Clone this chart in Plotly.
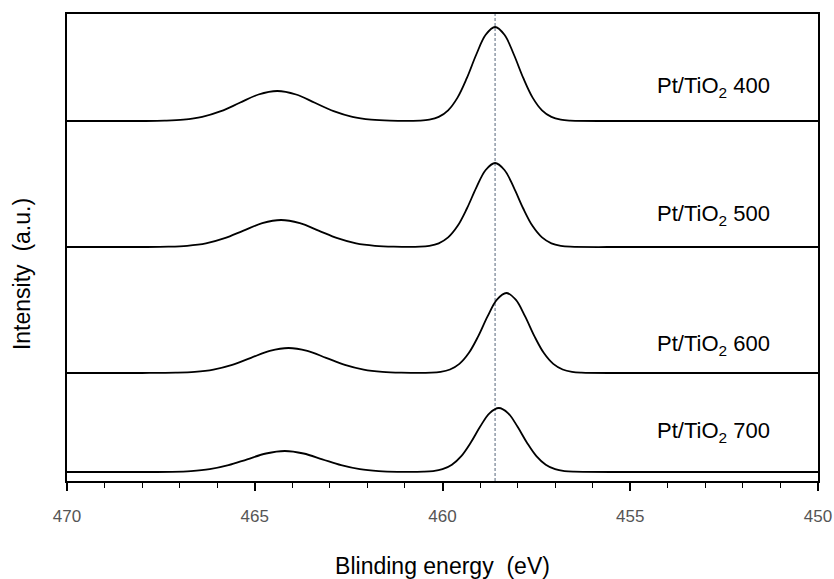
import plotly.graph_objects as go

# Binding energy (eV) sample points and intensities (a.u.)
samples = ["Pt/TiO<sub>2</sub> 400", "Pt/TiO<sub>2</sub> 500", "Pt/TiO<sub>2</sub> 600", "Pt/TiO<sub>2</sub> 700"]

x_400 = [470, 468, 467.4, 466.9, 466.4, 465.9, 465.4, 464.9, 464.4, 463.9, 463.4, 462.9, 462.4, 461.9, 461.4,
         460.6, 460.35, 460.1, 459.85, 459.6, 459.35, 459.1, 458.85, 458.6, 458.35, 458.1, 457.85, 457.6,
         457.35, 457.1, 456.85, 456.6, 455, 450]
y_400 = [0, 0, 0.003, 0.013, 0.041, 0.098, 0.182, 0.265, 0.30, 0.265, 0.182, 0.098, 0.041, 0.013, 0.003,
         0.004, 0.013, 0.041, 0.107, 0.234, 0.431, 0.665, 0.862, 0.94, 0.862, 0.665, 0.431, 0.234,
         0.107, 0.041, 0.013, 0.004, 0, 0]

x_500 = [470, 468, 467.3, 466.8, 466.3, 465.8, 465.3, 464.8, 464.3, 463.8, 463.3, 462.8, 462.3, 461.8, 461.3,
         460.6, 460.35, 460.1, 459.85, 459.6, 459.35, 459.1, 458.85, 458.6, 458.35, 458.1, 457.85, 457.6,
         457.35, 457.1, 456.85, 456.6, 455, 450]
y_500 = [0, 0, 0.003, 0.012, 0.036, 0.088, 0.164, 0.238, 0.27, 0.238, 0.164, 0.088, 0.036, 0.012, 0.003,
         0.003, 0.012, 0.037, 0.096, 0.209, 0.385, 0.594, 0.770, 0.84, 0.770, 0.594, 0.385, 0.209,
         0.096, 0.037, 0.012, 0.003, 0, 0]

x_600 = [470, 468, 467.1, 466.6, 466.1, 465.6, 465.1, 464.6, 464.1, 463.6, 463.1, 462.6, 462.1, 461.6, 461.1,
         460.3, 460.05, 459.8, 459.55, 459.3, 459.05, 458.8, 458.55, 458.3, 458.05, 457.8, 457.55, 457.3,
         457.05, 456.8, 456.55, 456.3, 455, 450]
y_600 = [0, 0, 0.003, 0.011, 0.034, 0.081, 0.152, 0.221, 0.25, 0.221, 0.152, 0.081, 0.034, 0.011, 0.003,
         0.003, 0.011, 0.035, 0.091, 0.199, 0.366, 0.566, 0.734, 0.80, 0.734, 0.566, 0.366, 0.199,
         0.091, 0.035, 0.011, 0.003, 0, 0]

x_700 = [470, 468, 467.2, 466.7, 466.2, 465.7, 465.2, 464.7, 464.2, 463.7, 463.2, 462.7, 462.2, 461.7, 461.2,
         460.5, 460.25, 460.0, 459.75, 459.5, 459.25, 459.0, 458.75, 458.5, 458.25, 458.0, 457.75, 457.5,
         457.25, 457.0, 456.75, 456.5, 455, 450]
y_700 = [0, 0, 0.002, 0.009, 0.028, 0.068, 0.127, 0.185, 0.21, 0.185, 0.127, 0.068, 0.028, 0.009, 0.002,
         0.003, 0.009, 0.028, 0.073, 0.159, 0.293, 0.452, 0.587, 0.64, 0.587, 0.452, 0.293, 0.159,
         0.073, 0.028, 0.009, 0.003, 0, 0]

x_data = [x_400, x_500, x_600, x_700]
y_data = [y_400, y_500, y_600, y_700]
offsets = [3.60, 2.34, 1.08, 0.09]          # vertical stacking offsets (a.u.)
label_y = [3.94, 2.66, 1.36, 0.49]           # label heights (a.u.)
label_x = 454.35
ref_energy = 458.6                           # dashed reference line (eV)

x_ticks = [470, 465, 460, 455, 450]

FONT = "Liberation Sans, Arial"

fig = go.Figure()
for name, xs, ys, off in zip(samples, x_data, y_data, offsets):
    fig.add_trace(go.Scatter(
        x=xs, y=[v + off for v in ys], mode="lines", name=name,
        line=dict(color="black", width=1.8, shape="spline", smoothing=1.0),
        showlegend=False, hoverinfo="skip"))

fig.add_shape(type="line", x0=ref_energy, x1=ref_energy, y0=0, y1=1, yref="paper", xref="x",
              line=dict(color="#55657a", width=1, dash="3px,2px"), layer="below")

for name, ly in zip(samples, label_y):
    fig.add_annotation(x=label_x, y=ly, text=name, showarrow=False, xanchor="left", yanchor="middle",
                       font=dict(size=22, color="black", family=FONT))

# y-axis title placed as annotation (it sits a little below the axis centre in the reference)
fig.add_annotation(x=-0.06, y=0.443, xref="paper", yref="paper", text="Intensity  (a.u.)",
                   textangle=-90, showarrow=False, xanchor="center", yanchor="middle",
                   font=dict(size=23, color="black", family=FONT))

fig.update_layout(
    width=834, height=579,
    margin=dict(l=67, r=16, t=14, b=98),
    plot_bgcolor="white", paper_bgcolor="white",
    font=dict(family=FONT, color="black"),
    xaxis=dict(range=[470, 450], tickvals=x_ticks, ticks="outside", ticklen=8, tickwidth=1.5,
               tickcolor="black", showline=True, linecolor="black", linewidth=2, mirror=True,
               showgrid=False, zeroline=False, ticklabelstandoff=11, automargin=False,
               tickfont=dict(size=17, color="#555555"),
               minor=dict(dtick=1, ticks="outside", ticklen=5, tickwidth=1.2, tickcolor="black", showgrid=False),
               title=dict(text="Blinding energy  (eV)", font=dict(size=23, color="black"), standoff=33)),
    yaxis=dict(range=[0, 4.67], showticklabels=False, ticks="", showline=True, linecolor="black",
               linewidth=2, mirror=True, showgrid=False, zeroline=False, automargin=False),
)

fig.write_html("out.html")
